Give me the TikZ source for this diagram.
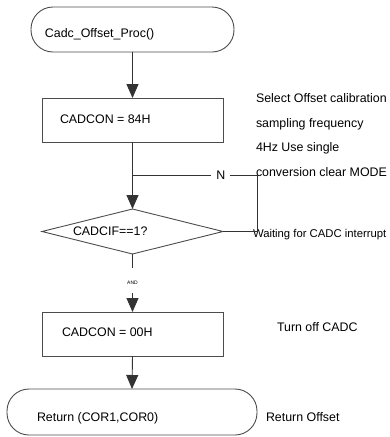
\documentclass[tikz,border=0pt]{standalone}
\usepackage{fontspec}
\setmainfont{Liberation Sans}
\usetikzlibrary{arrows.meta,shapes.geometric}
\begin{document}
\begin{tikzpicture}[x=1pt,y=-1pt,
  font=\fontsize{12.4}{14}\selectfont,
  every node/.style={inner sep=0pt, outer sep=0pt},
  flowline/.style={draw=black!80, line width=0.9pt},
  flowarrow/.style={flowline, -{Triangle[length=14pt,width=12pt]}},
  terminal/.style={draw=black!70, line width=0.9pt, rectangle, rounded corners=22pt},
  procbox/.style={draw=black!70, line width=0.9pt, rectangle},
  decision/.style={draw=black!70, line width=0.9pt, diamond},
  txt/.style={anchor=base west, text=black}]
\useasboundingbox (0,0) rectangle (390,437);

% shapes
\node[terminal, minimum width=203pt, minimum height=45pt] (start) at (132.5,29.5) {};
\node[procbox, minimum width=181pt, minimum height=44pt] (set84) at (132.5,120) {};
\node[decision, minimum width=181pt, minimum height=45pt] (test) at (132.5,231.5) {};
\node[procbox, minimum width=181pt, minimum height=44pt] (set00) at (132.5,334) {};
\node[terminal, minimum width=250pt, minimum height=46pt] (stop) at (132,412) {};

% texts inside the shapes
\node[txt] (tstart) at (45,37.5) {Cadc\_Offset\_Proc()};
\node[txt] (tset84) at (60,123.5) {CADCON = 84H};
\node[txt] (ttest) at (73,235) {CADCIF==1?};
\node[txt] (tset00) at (62,336) {CADCON = 00H};
\node[txt] (tstop) at (37,421) {Return (COR1,COR0)};

% comments on the right
\node[txt] (c1) at (256,102.5) {Select Offset calibration};
\node[txt] (c2) at (256,127) {sampling frequency};
\node[txt] (c3) at (256,151.5) {4Hz Use single};
\node[txt] (c4) at (256,176) {conversion clear MODE};
\node[txt, font=\fontsize{11.3}{13}\selectfont] (c5) at (253,237.5) {Waiting for CADC interrupt};
\node[txt] (c6) at (277,331.5) {Turn off CADC};
\node[txt] (c7) at (266,421) {Return Offset};

% connectors
\coordinate (join) at (132.5,175);
\coordinate (loopA) at (257,231.5);
\coordinate (loopB) at (257,175);
\coordinate (yesend) at (132.5,268);
\coordinate (yesstart) at (132.5,293);

\draw[flowarrow] (start.south) -- (set84.north);
\draw[flowline] (set84.south) -- (join);
\draw[flowarrow] (join) -- (test.north);
\draw[flowline] (test.east) -- (loopA) -- (loopB)
  -- node[pos=0.29, fill=white, inner xsep=5pt, inner ysep=2pt] (nlab) {N} (join);
\draw[flowline] (test.south) -- (yesend);
\node[font=\fontsize{5}{6}\selectfont] (yes) at (132.5,283) {AND};
\draw[flowarrow] (yesstart) -- (set00.north);
\draw[flowarrow] (set00.south) -- (stop.north);
\end{tikzpicture}
\end{document}
